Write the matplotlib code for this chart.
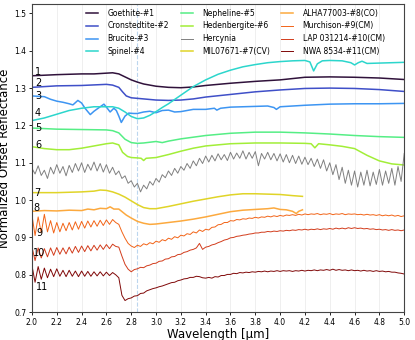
import numpy as np
import matplotlib.pyplot as plt

# wavelength sampling used by the noisy spectra (step 0.025 um)
wl_fine = np.linspace(2.0, 5.0, 121)

# smooth lab spectra: own wavelength points
wl_goethite = [2.0, 2.2, 2.4, 2.5, 2.6, 2.65, 2.7, 2.75, 2.8, 2.85, 2.9, 3.0, 3.1, 3.2, 3.3, 3.4, 3.6, 3.8, 4.0, 4.2, 4.4, 4.6, 4.8, 5.0]
r_goethite = [1.333, 1.336, 1.338, 1.338, 1.340, 1.341, 1.338, 1.330, 1.322, 1.316, 1.311, 1.305, 1.302, 1.301, 1.303, 1.307, 1.313, 1.318, 1.322, 1.329, 1.330, 1.329, 1.327, 1.323]

wl_cronst = [2.0, 2.2, 2.4, 2.6, 2.65, 2.7, 2.73, 2.76, 2.8, 2.9, 3.0, 3.1, 3.2, 3.3, 3.4, 3.6, 3.8, 4.0, 4.2, 4.4, 4.6, 4.8, 5.0]
r_cronst = [1.302, 1.306, 1.307, 1.310, 1.308, 1.302, 1.290, 1.279, 1.274, 1.271, 1.268, 1.267, 1.268, 1.271, 1.276, 1.283, 1.290, 1.295, 1.299, 1.300, 1.299, 1.296, 1.291]

wl_brucite = [2.0, 2.1, 2.15, 2.2, 2.25, 2.3, 2.33, 2.37, 2.4, 2.43, 2.47, 2.5, 2.55, 2.58, 2.6, 2.63, 2.66, 2.68, 2.7, 2.72,
              2.75, 2.78, 2.82, 2.85, 2.9, 2.95, 3.0, 3.05, 3.1, 3.15, 3.2, 3.3, 3.4, 3.47, 3.49, 3.52, 3.6, 3.7, 3.8, 3.9,
              3.95, 3.97, 4.0, 4.1, 4.2, 4.4, 4.6, 4.8, 5.0]
r_brucite = [1.279, 1.277, 1.270, 1.265, 1.262, 1.258, 1.255, 1.267, 1.260, 1.245, 1.229, 1.238, 1.250, 1.257, 1.249, 1.236, 1.246, 1.240, 1.225, 1.208,
             1.225, 1.233, 1.232, 1.232, 1.236, 1.238, 1.234, 1.240, 1.241, 1.236, 1.237, 1.243, 1.243, 1.246, 1.241, 1.246, 1.249, 1.250, 1.251, 1.252,
             1.248, 1.243, 1.250, 1.252, 1.254, 1.257, 1.258, 1.258, 1.259]

wl_spinel = [2.0, 2.1, 2.2, 2.3, 2.4, 2.5, 2.6, 2.65, 2.7, 2.75, 2.8, 2.85, 2.9, 2.95, 3.0, 3.05, 3.1, 3.2, 3.3, 3.4, 3.5,
             3.6, 3.7, 3.8, 3.9, 4.0, 4.1, 4.2, 4.24, 4.27, 4.3, 4.34, 4.4, 4.5, 4.57, 4.6, 4.63, 4.66, 4.7, 4.8, 4.9, 5.0]
r_spinel = [1.213, 1.220, 1.230, 1.240, 1.246, 1.250, 1.250, 1.250, 1.246, 1.236, 1.224, 1.218, 1.220, 1.227, 1.237, 1.248, 1.258, 1.281, 1.304, 1.322, 1.337,
            1.348, 1.357, 1.363, 1.368, 1.371, 1.373, 1.374, 1.370, 1.346, 1.365, 1.373, 1.374, 1.373, 1.368, 1.362, 1.368, 1.372, 1.366, 1.367, 1.368, 1.369]

wl_nepheline = [2.0, 2.2, 2.4, 2.6, 2.65, 2.7, 2.75, 2.8, 2.85, 2.9, 3.0, 3.05, 3.1, 3.2, 3.4, 3.6, 3.8, 4.0, 4.2, 4.4, 4.6, 4.8, 5.0]
r_nepheline = [1.193, 1.190, 1.189, 1.188, 1.186, 1.180, 1.163, 1.154, 1.152, 1.153, 1.157, 1.154, 1.158, 1.164, 1.173, 1.179, 1.182, 1.182, 1.180, 1.177, 1.173, 1.170, 1.168]

wl_hedenb = [2.0, 2.1, 2.2, 2.3, 2.4, 2.5, 2.6, 2.65, 2.7, 2.73, 2.77, 2.8, 2.85, 2.88, 2.9, 2.92, 3.0, 3.1, 3.2, 3.3, 3.4,
             3.6, 3.8, 4.0, 4.2, 4.25, 4.28, 4.31, 4.4, 4.5, 4.6, 4.7, 4.8, 4.9, 5.0]
r_hedenb = [1.143, 1.138, 1.135, 1.135, 1.139, 1.145, 1.151, 1.153, 1.148, 1.128, 1.117, 1.114, 1.113, 1.112, 1.106, 1.112, 1.114, 1.122, 1.131, 1.139, 1.145,
            1.151, 1.153, 1.153, 1.152, 1.151, 1.140, 1.151, 1.148, 1.144, 1.138, 1.120, 1.105, 1.097, 1.094]

r_hercynia = [1.085, 1.070, 1.092, 1.066, 1.080, 1.058, 1.088, 1.070, 1.095, 1.072, 1.090, 1.065, 1.093, 1.074, 1.098, 1.078,
              1.100, 1.074, 1.096, 1.080, 1.102, 1.078, 1.098, 1.075, 1.095, 1.072, 1.088, 1.068, 1.078, 1.058, 1.065, 1.045,
              1.052, 1.035, 1.045, 1.022, 1.040, 1.030, 1.050, 1.040, 1.058, 1.048, 1.068, 1.060, 1.078, 1.066, 1.085, 1.072,
              1.090, 1.080, 1.098, 1.085, 1.105, 1.092, 1.112, 1.098, 1.118, 1.102, 1.120, 1.105, 1.124, 1.108, 1.122, 1.106,
              1.128, 1.110, 1.126, 1.112, 1.132, 1.110, 1.128, 1.112, 1.130, 1.092, 1.125, 1.110, 1.128, 1.108, 1.125, 1.105,
              1.124, 1.102, 1.122, 1.100, 1.120, 1.098, 1.118, 1.096, 1.115, 1.095, 1.112, 1.090, 1.110, 1.085, 1.108, 1.078,
              1.100, 1.068, 1.095, 1.055, 1.088, 1.045, 1.080, 1.040, 1.078, 1.035, 1.075, 1.040, 1.080, 1.038, 1.075, 1.042,
              1.082, 1.040, 1.078, 1.045, 1.085, 1.040, 1.090, 1.050, 1.125]

wl_mil = [2.0, 2.2, 2.4, 2.5, 2.55, 2.6, 2.65, 2.7, 2.75, 2.8, 2.85, 2.9, 2.95, 3.0, 3.1, 3.2, 3.3, 3.4, 3.5, 3.6, 3.7, 3.8, 3.9, 4.0, 4.1, 4.18]
r_mil = [1.020, 1.020, 1.022, 1.024, 1.027, 1.026, 1.022, 1.016, 1.008, 0.998, 0.988, 0.980, 0.977, 0.977, 0.983, 0.990, 0.997, 1.003, 1.009, 1.014, 1.017, 1.017, 1.016, 1.015, 1.012, 1.010]

wl_alha = [2.0, 2.1, 2.2, 2.3, 2.4, 2.45, 2.5, 2.55, 2.6, 2.63, 2.66, 2.7, 2.73, 2.76, 2.8, 2.85, 2.9, 2.95, 3.0, 3.1, 3.2,
           3.3, 3.4, 3.5, 3.6, 3.7, 3.8, 3.9, 3.95, 4.0, 4.05, 4.1, 4.13, 4.15, 4.18]
r_alha = [0.970, 0.972, 0.971, 0.973, 0.972, 0.976, 0.974, 0.978, 0.977, 0.982, 0.976, 0.976, 0.968, 0.960, 0.952, 0.943, 0.938, 0.935, 0.936, 0.940, 0.944,
          0.949, 0.955, 0.962, 0.969, 0.973, 0.975, 0.977, 0.979, 0.975, 0.974, 0.970, 0.964, 0.970, 0.974]

r_murchison = [0.960, 0.905, 0.955, 0.912, 0.962, 0.915, 0.945, 0.912, 0.940, 0.915, 0.938, 0.918, 0.940, 0.920, 0.942, 0.922,
               0.943, 0.925, 0.944, 0.928, 0.945, 0.930, 0.946, 0.932, 0.947, 0.935, 0.948, 0.940, 0.935, 0.915, 0.898, 0.884,
               0.877, 0.873, 0.879, 0.876, 0.883, 0.880, 0.886, 0.883, 0.890, 0.887, 0.894, 0.891, 0.898, 0.895, 0.902, 0.899,
               0.906, 0.904, 0.910, 0.908, 0.915, 0.912, 0.920, 0.916, 0.922, 0.920, 0.927, 0.928, 0.934, 0.935, 0.940, 0.940,
               0.945, 0.944, 0.948, 0.947, 0.950, 0.949, 0.952, 0.951, 0.954, 0.952, 0.955, 0.954, 0.957, 0.955, 0.958, 0.956,
               0.959, 0.957, 0.960, 0.959, 0.961, 0.959, 0.962, 0.960, 0.963, 0.961, 0.963, 0.962, 0.964, 0.961, 0.963, 0.962,
               0.964, 0.961, 0.963, 0.962, 0.964, 0.961, 0.963, 0.962, 0.963, 0.961, 0.962, 0.960, 0.962, 0.960, 0.961, 0.959,
               0.961, 0.958, 0.960, 0.958, 0.960, 0.957, 0.959, 0.956, 0.958]

r_lap = [0.875, 0.838, 0.872, 0.845, 0.870, 0.848, 0.872, 0.852, 0.873, 0.855, 0.872, 0.856, 0.874, 0.858, 0.876, 0.860,
         0.877, 0.862, 0.878, 0.864, 0.879, 0.866, 0.880, 0.868, 0.881, 0.870, 0.882, 0.876, 0.874, 0.850, 0.828, 0.815,
         0.808, 0.814, 0.816, 0.820, 0.819, 0.824, 0.826, 0.830, 0.831, 0.836, 0.837, 0.842, 0.843, 0.848, 0.849, 0.854,
         0.855, 0.860, 0.862, 0.866, 0.868, 0.872, 0.884, 0.868, 0.874, 0.876, 0.880, 0.882, 0.886, 0.889, 0.893, 0.895,
         0.899, 0.900, 0.903, 0.904, 0.906, 0.907, 0.909, 0.910, 0.912, 0.912, 0.914, 0.914, 0.916, 0.915, 0.917, 0.916,
         0.918, 0.917, 0.919, 0.918, 0.920, 0.919, 0.921, 0.920, 0.922, 0.920, 0.922, 0.921, 0.923, 0.921, 0.923, 0.922,
         0.924, 0.922, 0.925, 0.923, 0.925, 0.923, 0.926, 0.924, 0.926, 0.924, 0.925, 0.923, 0.924, 0.922, 0.923, 0.921,
         0.922, 0.920, 0.921, 0.919, 0.921, 0.919, 0.920, 0.918, 0.920]

r_nwa = [0.825, 0.780, 0.822, 0.788, 0.818, 0.792, 0.815, 0.795, 0.816, 0.796, 0.812, 0.795, 0.812, 0.796, 0.810, 0.795,
         0.810, 0.796, 0.809, 0.796, 0.808, 0.797, 0.808, 0.797, 0.807, 0.798, 0.806, 0.800, 0.792, 0.745, 0.731, 0.736,
         0.738, 0.743, 0.744, 0.750, 0.751, 0.757, 0.760, 0.763, 0.765, 0.768, 0.770, 0.773, 0.776, 0.779, 0.780, 0.784,
         0.786, 0.789, 0.790, 0.793, 0.793, 0.796, 0.795, 0.792, 0.791, 0.793, 0.791, 0.795, 0.794, 0.798, 0.798, 0.801,
         0.801, 0.804, 0.803, 0.806, 0.805, 0.807, 0.806, 0.808, 0.807, 0.809, 0.808, 0.810, 0.808, 0.810, 0.809, 0.811,
         0.809, 0.811, 0.810, 0.811, 0.809, 0.811, 0.810, 0.812, 0.810, 0.812, 0.811, 0.813, 0.811, 0.813, 0.812, 0.814,
         0.812, 0.815, 0.812, 0.814, 0.812, 0.813, 0.811, 0.813, 0.811, 0.812, 0.810, 0.812, 0.810, 0.811, 0.809, 0.811,
         0.809, 0.810, 0.808, 0.809, 0.807, 0.807, 0.805, 0.804, 0.802]

# curve number tags on the left
tag_text = ['1', '2', '3', '4', '5', '6', '7', '8', '9', '10', '11']
tag_x = [2.025, 2.025, 2.025, 2.025, 2.025, 2.025, 2.015, 2.015, 2.035, 2.012, 2.03]
tag_y = [1.343, 1.313, 1.279, 1.232, 1.193, 1.148, 1.020, 0.980, 0.911, 0.859, 0.768]

fig = plt.figure(figsize=(4.15, 3.4), dpi=100)
ax = fig.add_axes([0.077, 0.082, 0.897, 0.906])

ax.plot(wl_goethite, r_goethite, color='#30123b', lw=1.1, label='Goethite-#1')
ax.plot(wl_cronst, r_cronst, color='#3f4fc8', lw=1.1, label='Cronstedtite-#2')
ax.plot(wl_brucite, r_brucite, color='#3d95f2', lw=1.1, label='Brucite-#3')
ax.plot(wl_spinel, r_spinel, color='#2cd6cc', lw=1.1, label='Spinel-#4')
ax.plot(wl_nepheline, r_nepheline, color='#55ee85', lw=1.1, label='Nepheline-#5')
ax.plot(wl_hedenb, r_hedenb, color='#a2ee38', lw=1.1, label='Hedenbergite-#6')
ax.plot(wl_fine, r_hercynia, color='#808080', lw=0.7, label='Hercynia')
ax.plot(wl_mil, r_mil, color='#e0d428', lw=1.1, label='MIL07671-#7(CV)')
ax.plot(wl_alha, r_alha, color='#fca93e', lw=1.1, label='ALHA77003-#8(CO)')
ax.plot(wl_fine, r_murchison, color='#f26418', lw=0.7, label='Murchison-#9(CM)')
ax.plot(wl_fine, r_lap, color='#d23c1c', lw=0.7, label='LAP 031214-#10(CM)')
ax.plot(wl_fine, r_nwa, color='#800808', lw=0.7, label='NWA 8534-#11(CM)')

for t, x, y in zip(tag_text, tag_x, tag_y):
    ax.text(x, y, t, fontsize=7, ha='left', va='center')

ax.axvline(2.85, color='#bcd6ee', lw=0.8, ls='--', zorder=0)

ax.set_xlim(2.0, 5.0)
ax.set_ylim(0.7, 1.525)
ax.set_xticks(np.arange(2.0, 5.01, 0.2))
ax.set_yticks(np.arange(0.7, 1.51, 0.1))
ax.grid(axis='x', color='#ececec', lw=0.6, zorder=0)
ax.set_axisbelow(True)
ax.tick_params(labelsize=5.5, length=2.5, width=0.6, pad=1.5)
for s in ax.spines.values():
    s.set_linewidth(0.8)
    s.set_color('#444444')

ax.set_xlabel('Wavelength [μm]', fontsize=8.5, labelpad=1)
ax.set_ylabel('Normalized Offset Reflectance', fontsize=8.5, labelpad=2)

ax.legend(loc='upper right', bbox_to_anchor=(0.96, 1.0), ncol=3, frameon=False, fontsize=5.5,
          handlelength=1.6, handletextpad=1.2, columnspacing=1.5, borderaxespad=0.2)

fig.savefig('out.png', dpi=100)
